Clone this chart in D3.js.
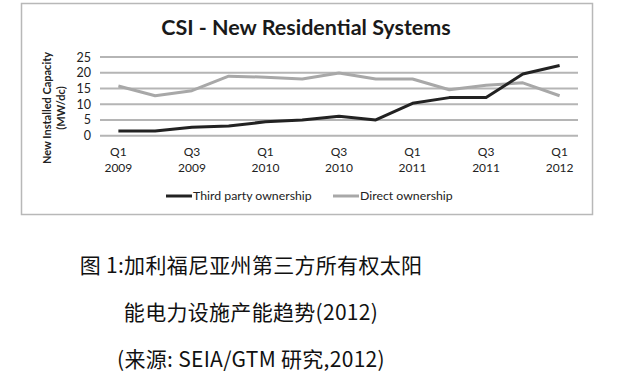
<!DOCTYPE html>
<html>
<head>
<meta charset="utf-8">
<script src="https://cdn.jsdelivr.net/npm/d3@7"></script>
<style>
  body { margin: 0; background: #fff; }
  svg { display: block; }
</style>
</head>
<body>
<div id="chart"></div>
<script>
// quarters shown on the x axis
var quarters = ["Q1 2009", "Q2 2009", "Q3 2009", "Q4 2009", "Q1 2010", "Q2 2010", "Q3 2010",
  "Q4 2010", "Q1 2011", "Q2 2011", "Q3 2011", "Q4 2011", "Q1 2012"];
// new installed capacity, MW/dc
var thirdParty = [1.5, 1.5, 2.7, 3.1, 4.4, 5.0, 6.2, 5.0, 10.3, 12.1, 12.1, 19.6, 22.3];
var direct = [15.8, 12.7, 14.3, 18.9, 18.6, 18.0, 19.9, 18.0, 18.0, 14.6, 16.0, 16.8, 12.7];
var yTicks = [0, 5, 10, 15, 20, 25];
var seriesNames = ["Third party ownership", "Direct ownership"];
var captionLines = ["图 1:加利福尼亚州第三方所有权太阳", "能电力设施产能趋势(2012)", "(来源: SEIA/GTM 研究,2012)"];

var W = 640, H = 377;
var svg = d3.select("#chart").append("svg").attr("width", W).attr("height", H);

// chart frame
svg.append("rect")
  .attr("x", 21.5).attr("y", 3.5).attr("width", 571).attr("height", 211)
  .attr("fill", "#fff").attr("stroke", "#b8b8b8").attr("stroke-width", 1.5);

var plot = { left: 100, right: 578, top: 57, bottom: 135.7 };

var x = d3.scalePoint().domain(quarters).range([plot.left, plot.right]).padding(0.5);
var y = d3.scaleLinear().domain([0, 25]).range([plot.bottom, plot.top]);

// gridlines
svg.append("g").selectAll("line").data(yTicks).join("line")
  .attr("x1", plot.left).attr("x2", plot.right)
  .attr("y1", d => y(d)).attr("y2", d => y(d))
  .attr("stroke", "#b5b5b5").attr("stroke-width", 2);

var font = "Lato, 'Open Sans', sans-serif";

// y axis labels
var yAxis = d3.axisLeft(y).tickValues(yTicks).tickSize(0).tickPadding(0);
svg.append("g")
  .attr("transform", "translate(91,0)")
  .call(yAxis)
  .call(g => g.select(".domain").remove())
  .call(g => g.selectAll("text").attr("font-family", font).attr("font-size", 12.5).attr("fill", "#222"));

// x axis labels (every other quarter)
var xg = svg.append("g");
var xLabels = quarters.filter((d, i) => i % 2 === 0);
xLabels.forEach(function (q) {
  var parts = q.split(" ");
  var t = xg.append("text")
    .attr("x", x(q)).attr("text-anchor", "middle")
    .attr("font-family", font).attr("font-size", 12).attr("fill", "#222");
  t.append("tspan").attr("x", x(q)).attr("y", 156).text(parts[0]);
  t.append("tspan").attr("x", x(q)).attr("y", 172).text(parts[1]);
});

// y axis title
var yt = svg.append("text")
  .attr("transform", "translate(54,108) rotate(-90)")
  .attr("text-anchor", "middle")
  .attr("font-family", font).attr("font-size", 11).attr("font-weight", "bold").attr("fill", "#222");
yt.append("tspan").attr("x", 0).attr("y", -3).text("New Installed Capacity");
yt.append("tspan").attr("x", 0).attr("y", 11).text("(MW/dc)");

// title
svg.append("text")
  .attr("x", 306).attr("y", 35).attr("text-anchor", "middle")
  .attr("font-family", font).attr("font-size", 21.5).attr("font-weight", "bold").attr("fill", "#1a1a1a")
  .text("CSI - New Residential Systems");

// lines
var line = d3.line().x((d, i) => x(quarters[i])).y(d => y(d));
svg.append("path").datum(direct)
  .attr("d", line).attr("fill", "none")
  .attr("stroke", "#a8a8a8").attr("stroke-width", 3).attr("stroke-linejoin", "round");
svg.append("path").datum(thirdParty)
  .attr("d", line).attr("fill", "none")
  .attr("stroke", "#222").attr("stroke-width", 3).attr("stroke-linejoin", "round");

// legend
var legend = [
  { name: seriesNames[0], color: "#222", x: 166 },
  { name: seriesNames[1], color: "#a8a8a8", x: 333 }
];
legend.forEach(function (l) {
  svg.append("line").attr("x1", l.x).attr("x2", l.x + 26).attr("y1", 196).attr("y2", 196)
    .attr("stroke", l.color).attr("stroke-width", 3);
  svg.append("text").attr("x", l.x + 27).attr("y", 200)
    .attr("font-family", font).attr("font-size", 12.3).attr("fill", "#222")
    .text(l.name);
});

// caption
svg.append("g").selectAll("text").data(captionLines).join("text")
  .attr("x", 251).attr("y", (d, i) => 273 + i * 47)
  .attr("text-anchor", "middle")
  .attr("font-family", "'Noto Sans CJK SC', sans-serif").attr("font-size", 21)
  .attr("letter-spacing", 0.3).attr("fill", "#111")
  .text(d => d);
</script>
</body>
</html>
